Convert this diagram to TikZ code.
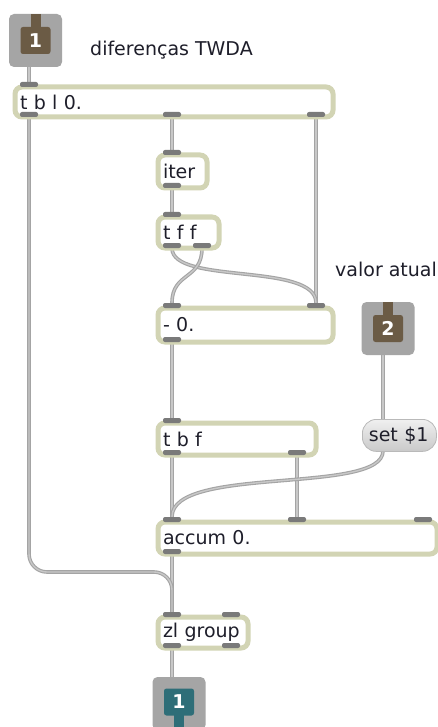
\documentclass[tikz,border=0pt]{standalone}
\usepackage{fontspec}
\setmainfont{DejaVu Sans}
\usepackage{xcolor}
\usepackage{tikz}
\usetikzlibrary{backgrounds}

\definecolor{objrim}{HTML}{D2D4B4}
\definecolor{portgray}{HTML}{7A7A7A}
\definecolor{cordedge}{HTML}{A4A4A4}
\definecolor{cordfill}{HTML}{C8C8C8}
\definecolor{ioframe}{HTML}{A5A5A5}
\definecolor{inbrown}{HTML}{6B5B45}
\definecolor{outteal}{HTML}{2E6E78}
\definecolor{ink}{HTML}{1E1E2A}

\begin{document}
\begin{tikzpicture}[x=1pt,y=-1pt,font=\fontsize{19}{22}\selectfont]
    \tikzset{
      obj/.style 2 args={draw=objrim, line width=5pt, fill=white, rounded corners=7pt,
        anchor=north west, text width=#1, minimum height=#2, inner xsep=5pt,
        inner ysep=0pt, align=left, text=ink},
      msg/.style={draw=gray!55, line width=0.8pt, top color=gray!12, bottom color=gray!42,
        rounded corners=14pt, anchor=north west, text width=61pt, minimum height=32pt,
        inner xsep=6.5pt, inner ysep=0pt, align=left, text=ink},
      port/.style={fill=portgray, rounded corners=2pt, minimum width=18pt,
        minimum height=5pt, inner sep=0pt},
      iobox/.style={fill=ioframe, rounded corners=5pt, minimum width=53pt,
        minimum height=53pt, inner sep=0pt},
      ionum/.style={rounded corners=2.5pt, minimum width=30pt, minimum height=27pt,
        inner sep=0pt, text=white, font=\fontsize{19}{22}\selectfont\bfseries},
      label/.style={anchor=west, inner sep=0pt, text=ink},
      cord/.style={draw=cordedge, line width=1.1pt, double=cordfill, double distance=1.4pt}
    }
    \useasboundingbox (0,0) rectangle (438,727);

    % inlets and outlet of the patcher
    \node[iobox] (in1) at (35.5,40.5) {};
    \node[ionum, fill=inbrown] (in1-n) at (in1) {1};
    \fill[inbrown] ([xshift=-5pt]in1.north) rectangle ([xshift=5pt,yshift=-2pt]in1-n.north);
    \node[iobox] (in2) at (388,328.5) {};
    \node[ionum, fill=inbrown] (in2-n) at (in2) {2};
    \fill[inbrown] ([xshift=-5pt]in2.north) rectangle ([xshift=5pt,yshift=-2pt]in2-n.north);
    \node[iobox] (out1) at (179,703.5) {};
    \node[ionum, fill=outteal] (out1-n) at (179,702) {1};
    \fill[outteal] ([xshift=-5pt,yshift=2pt]out1-n.south) rectangle ([xshift=5pt]out1.south);
    \coordinate (in1-o) at ([xshift=-6.5pt]in1.south);
    \coordinate (in2-o) at ([xshift=-5pt]in2.south);
    \coordinate (out1-i) at ([xshift=-7pt]out1.north);

    \node[label] (title) at (90,50) {diferenças TWDA};
    \node[label] (valor) at (335,269) {valor atual};

    % objects
    \node[obj={308pt}{30pt}] (tbl) at (12.5,84.5) {t b l 0.};
    \node[obj={39pt}{33pt}] (iter) at (155.5,152.5) {iter};
    \node[obj={51pt}{31pt}] (tff) at (155.5,214.5) {t f f};
    \node[obj={165pt}{34pt}] (minus) at (155.5,305.5) {- 0.};
    \node[obj={148pt}{32pt}] (tbf) at (155.5,420.5) {t b f};
    \node[obj={269pt}{32pt}] (accum) at (155.5,519.5) {accum 0.};
    \node[obj={80pt}{31pt}] (zl) at (155.5,614.5) {zl group};
    \node[msg] (setmsg) at (362,419) {set \$1};
    \coordinate (setmsg-i) at (383,419);
    \coordinate (setmsg-o) at (383,451);

    % inlets and outlets of the objects
    \foreach \n/\x/\y in {tbl-i1/29/84.5, tbl-o1/29/114.5, tbl-o2/172/114.5, tbl-o3/316/114.5,
        iter-i1/172/152.5, iter-o1/172/185.5,
        tff-i1/172/214.5, tff-o1/172/245.5, tff-o2/202/245.5,
        minus-i1/172/305.5, minus-i2/316/305.5, minus-o1/172/339.5,
        tbf-i1/172/420.5, tbf-o1/172/452.5, tbf-o2/297/452.5,
        accum-i1/172/519.5, accum-i2/297/519.5, accum-i3/423/519.5, accum-o1/172/551.5,
        zl-i1/172/614.5, zl-i2/231/614.5, zl-o1/172/645.5, zl-o2/231/645.5} {
      \node[port] (\n) at (\x,\y) {};
    }

    % patch cords
    \begin{scope}[on background layer]
      \fill[white] (0,0) rectangle (438,727);
      \foreach \a/\b in {in1-o/tbl-i1, tbl-o2/iter-i1, iter-o1/tff-i1, tbl-o3/minus-i2,
          minus-o1/tbf-i1, in2-o/setmsg-i, tbf-o1/accum-i1, tbf-o2/accum-i2,
          accum-o1/zl-i1, zl-o1/out1-i} {
        \draw[cord] (\a) -- (\b);
      }
      \draw[cord] (tff-o1) .. controls (172,285) and (316,262) .. (minus-i2);
      \draw[cord] (tff-o2) .. controls (202,280) and (172,272) .. (minus-i1);
      \draw[cord] (setmsg-o) .. controls (383,495) and (172,465) .. (accum-i1);
      \coordinate (bend) at (100,572);
      \draw[cord, rounded corners=18pt] (tbl-o1) |- (bend) -| (zl-i1);
    \end{scope}
  \end{tikzpicture}
\end{document}
